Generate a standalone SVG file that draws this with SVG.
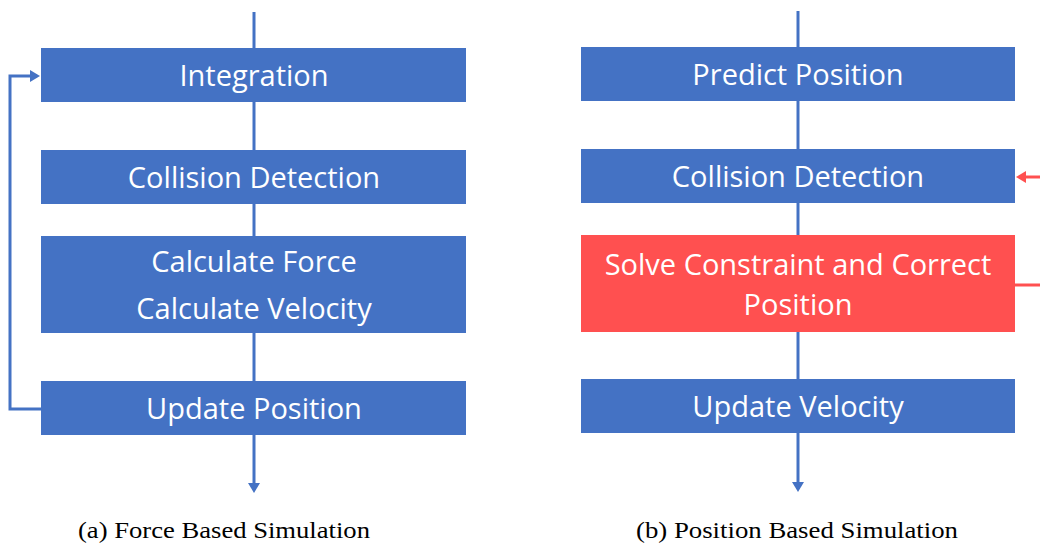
<svg xmlns="http://www.w3.org/2000/svg" width="1040" height="544" viewBox="0 0 1040 544">
  <style>
    .box { fill: #4472C4; }
    .hot { fill: #FF5050; }
    .lbl { font-family: "Open Sans", "Noto Sans", sans-serif; font-size: 29px; fill: #ffffff; text-anchor: middle; }
    .cap { font-family: "Liberation Serif", "DejaVu Serif", serif; font-size: 23px; fill: #000000; text-anchor: middle; }
    .flow { stroke: #4472C4; stroke-width: 3; fill: none; }
    .back { stroke: #FF5050; stroke-width: 3; fill: none; }
  </style>
  <defs>
    <marker id="ah" markerWidth="12" markerHeight="12" refX="7" refY="6" orient="auto" markerUnits="userSpaceOnUse">
      <path d="M0,0 L10,6 L0,12 Z" fill="#4472C4"/>
    </marker>
    <marker id="ahr" markerWidth="12" markerHeight="12" refX="7" refY="6" orient="auto" markerUnits="userSpaceOnUse">
      <path d="M0,0 L10,6 L0,12 Z" fill="#FF5050"/>
    </marker>
  </defs>

  <!-- connectors -->
  <g id="connectors">
    <line class="flow" x1="254" y1="12" x2="254" y2="48"/>
    <line class="flow" x1="254" y1="102" x2="254" y2="150"/>
    <line class="flow" x1="254" y1="204" x2="254" y2="236"/>
    <line class="flow" x1="254" y1="333" x2="254" y2="381"/>
    <line class="flow" x1="254" y1="435" x2="254" y2="490" marker-end="url(#ah)"/>
    <polyline class="flow" points="41,409 10,409 10,76 37,76" marker-end="url(#ah)"/>

    <line class="flow" x1="798" y1="11" x2="798" y2="47"/>
    <line class="flow" x1="798" y1="101" x2="798" y2="149"/>
    <line class="flow" x1="798" y1="203" x2="798" y2="235"/>
    <line class="flow" x1="798" y1="332" x2="798" y2="379"/>
    <line class="flow" x1="798" y1="433" x2="798" y2="489" marker-end="url(#ah)"/>
    <line class="back" x1="1040" y1="177" x2="1019" y2="177" marker-end="url(#ahr)"/>
    <line class="back" x1="1015" y1="285" x2="1040" y2="285"/>
  </g>

  <!-- force based pipeline -->
  <g id="integration">
    <rect class="box" x="41" y="48" width="425" height="54"/>
    <text class="lbl" x="254" y="86">Integration</text>
  </g>
  <g id="collision-a">
    <rect class="box" x="41" y="150" width="425" height="54"/>
    <text class="lbl" x="254" y="188">Collision Detection</text>
  </g>
  <g id="calculate">
    <rect class="box" x="41" y="236" width="425" height="97"/>
    <text class="lbl" x="254" y="272">Calculate Force</text>
    <text class="lbl" x="254" y="319">Calculate Velocity</text>
  </g>
  <g id="update-position">
    <rect class="box" x="41" y="381" width="425" height="54"/>
    <text class="lbl" x="254" y="419">Update Position</text>
  </g>

  <!-- position based pipeline -->
  <g id="predict">
    <rect class="box" x="581" y="47" width="434" height="54"/>
    <text class="lbl" x="798" y="85">Predict Position</text>
  </g>
  <g id="collision-b">
    <rect class="box" x="581" y="149" width="434" height="54"/>
    <text class="lbl" x="798" y="187">Collision Detection</text>
  </g>
  <g id="solve">
    <rect class="hot" x="581" y="235" width="434" height="97"/>
    <text class="lbl" x="798" y="275">Solve Constraint and Correct</text>
    <text class="lbl" x="798" y="315">Position</text>
  </g>
  <g id="update-velocity">
    <rect class="box" x="581" y="379" width="434" height="54"/>
    <text class="lbl" x="798" y="417">Update Velocity</text>
  </g>

  <!-- captions -->
  <text class="cap" x="224" y="538" textLength="292" lengthAdjust="spacingAndGlyphs">(a) Force Based Simulation</text>
  <text class="cap" x="797" y="538" textLength="322" lengthAdjust="spacingAndGlyphs">(b) Position Based Simulation</text>
</svg>
